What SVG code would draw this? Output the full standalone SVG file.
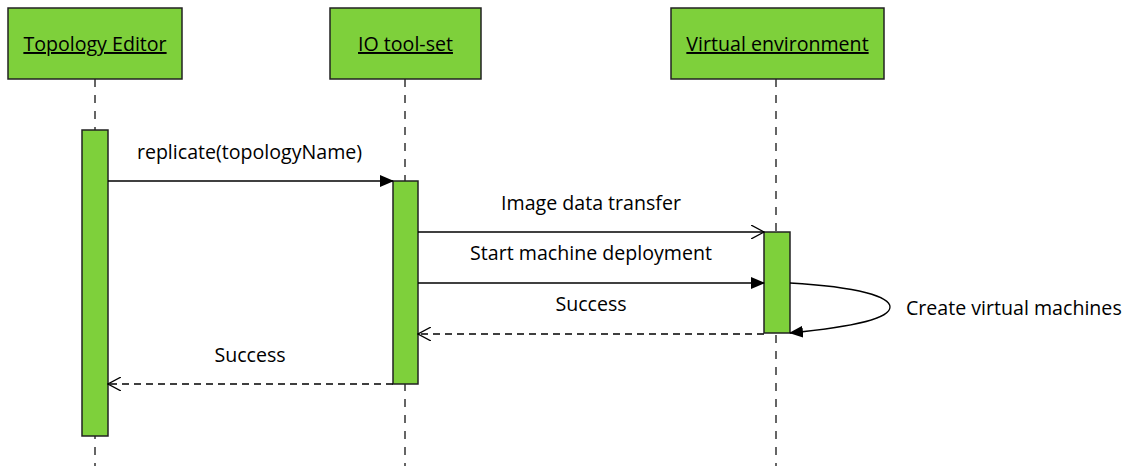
<svg xmlns="http://www.w3.org/2000/svg" width="1127" height="466" viewBox="0 0 1127 466">
<style>
.box{fill:#7ed03b;stroke:#222;stroke-width:1.5}
.act{fill:#7ed03b;stroke:#222;stroke-width:1.5}
.life{stroke:#333;stroke-width:1.5;stroke-dasharray:8 8;fill:none}
.msg{stroke:#000;stroke-width:1.3;fill:none}
.ret{stroke:#000;stroke-width:1.3;fill:none;stroke-dasharray:7 5}
.t{font-family:"Open Sans","Liberation Sans",sans-serif;font-size:19.6px;fill:#000}
.h{font-family:"Open Sans","Liberation Sans",sans-serif;font-size:19.6px;fill:#000;text-decoration:underline;text-anchor:middle}
</style>
<defs>
<marker id="fill" markerWidth="14" markerHeight="12" refX="13" refY="6" orient="auto" markerUnits="userSpaceOnUse"><path d="M0,0 L14,6 L0,12 Z" fill="#000"/></marker>
<marker id="open" markerWidth="14" markerHeight="14" refX="13" refY="7" orient="auto" markerUnits="userSpaceOnUse"><path d="M0,0 L13,7 L0,14" fill="none" stroke="#000" stroke-width="1.3"/></marker>
</defs>
<g id="lifelines">
<line class="life" x1="95" y1="79" x2="95" y2="466"/>
<line class="life" x1="405" y1="79" x2="405" y2="466"/>
<line class="life" x1="776" y1="79" x2="776" y2="466"/>
</g>
<g id="topology-editor">
<rect class="box" x="8" y="8" width="174" height="71"/>
<text class="h" x="95" y="51">Topology Editor</text>
<rect class="act" x="82" y="130" width="26" height="306"/>
</g>
<g id="io-tool-set">
<rect class="box" x="330" y="8" width="151" height="71"/>
<text class="h" x="405.5" y="51">IO tool-set</text>
<rect class="act" x="393" y="181" width="25" height="203"/>
</g>
<g id="virtual-environment">
<rect class="box" x="671" y="8" width="213" height="71"/>
<text class="h" x="777.5" y="51">Virtual environment</text>
<rect class="act" x="764" y="232" width="26" height="101"/>
</g>
<g id="connectors">
<line class="msg" x1="108" y1="181" x2="393" y2="181" marker-end="url(#fill)"/>
<line class="msg" x1="418" y1="232" x2="764" y2="232" marker-end="url(#open)"/>
<line class="msg" x1="418" y1="283" x2="764" y2="283" marker-end="url(#fill)"/>
<line class="ret" x1="764" y1="334" x2="418" y2="334" marker-end="url(#open)"/>
<line class="ret" x1="393" y1="384" x2="108" y2="384" marker-end="url(#open)"/>
<path class="msg" d="M790,283 C860,287 890,297 890,307 C890,318 860,326 790,333" marker-end="url(#fill)"/>
</g>
<g id="labels">
<text class="t" x="249.5" y="159" text-anchor="middle">replicate(topologyName)</text>
<text class="t" x="591" y="210" text-anchor="middle">Image data transfer</text>
<text class="t" x="591" y="260" text-anchor="middle">Start machine deployment</text>
<text class="t" x="591" y="311" text-anchor="middle">Success</text>
<text class="t" x="250" y="362" text-anchor="middle">Success</text>
<text class="t" x="906" y="315">Create virtual machines</text>
</g>
</svg>
